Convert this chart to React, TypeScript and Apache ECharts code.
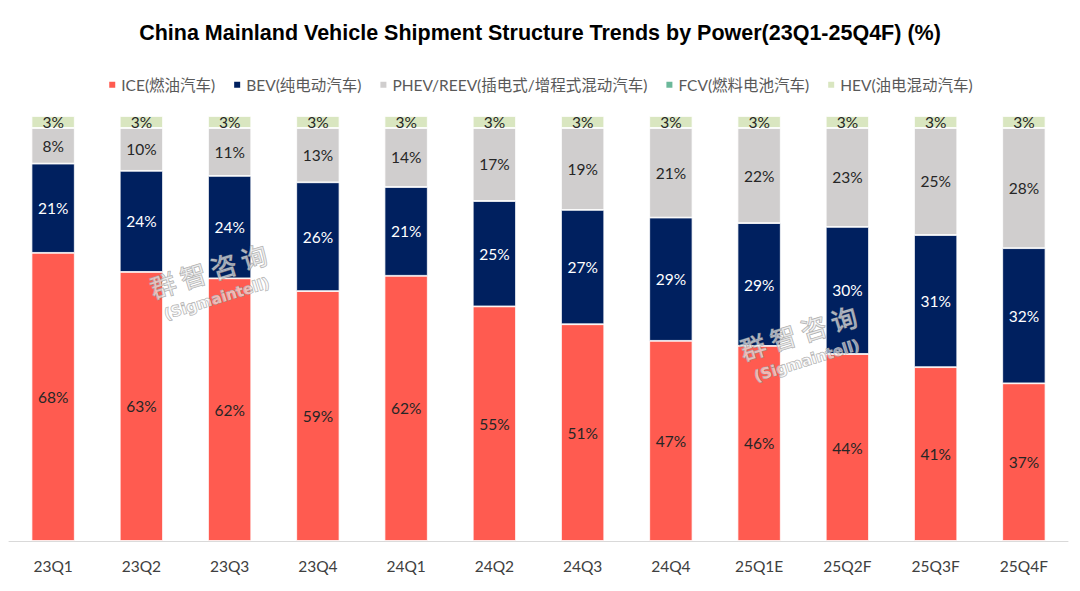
import React, { useEffect, useRef } from "react";
import * as echarts from "echarts";

const categories = ["23Q1", "23Q2", "23Q3", "23Q4", "24Q1", "24Q2", "24Q3", "24Q4", "25Q1E", "25Q2F", "25Q3F", "25Q4F"];
const iceValues = [67.8, 63.3, 61.8, 58.8, 62.4, 55.2, 51.0, 47.1, 45.9, 44.0, 40.9, 37.1];
const bevValues = [21.0, 23.8, 24.1, 25.6, 20.9, 24.8, 26.9, 29.0, 28.9, 29.9, 31.1, 31.8];
const phevValues = [8.4, 10.1, 11.3, 12.8, 13.9, 17.2, 19.3, 21.1, 22.4, 23.3, 25.2, 28.3];
const fcvValues = [0, 0, 0, 0, 0, 0, 0, 0, 0, 0, 0, 0];
const hevValues = [2.8, 2.8, 2.8, 2.8, 2.8, 2.8, 2.8, 2.8, 2.8, 2.8, 2.8, 2.8];

const seriesNames = ["ICE(燃油汽车)", "BEV(纯电动汽车)", "PHEV/REEV(插电式/增程式混动汽车)", "FCV(燃料电池汽车)", "HEV(油电混动汽车)"];
const seriesColors = ["#FF5B50", "#00205F", "#D0CECE", "#6BB89A", "#D9E6C0"];
const labelColors = ["#262626", "#FFFFFF", "#262626", "#262626", "#262626"];

const FONT = "Lato, 'Noto Sans CJK SC', sans-serif";

export default function App() {
  const ref = useRef<HTMLDivElement>(null);
  useEffect(() => {
    if (!ref.current) return;
    const chart = echarts.init(ref.current, undefined, { renderer: "svg" });
    const allData = [iceValues, bevValues, phevValues, fcvValues, hevValues];
    const wm = (x: number, y: number) => ({
      type: "group",
      x,
      y,
      rotation: 0.3,
      silent: true,
      z: 100,
      children: [
        {
          type: "text",
          x: 0,
          y: 0,
          z: 100,
          style: {
            text: "群 智 咨 询",
            font: "26px 'Noto Sans CJK SC'",
            fill: "rgba(255,255,255,0.55)",
            stroke: "rgba(150,150,150,0.8)",
            lineWidth: 1.2,
            textAlign: "center",
            textVerticalAlign: "middle",
          },
        },
        {
          type: "text",
          x: 0,
          y: 30,
          z: 100,
          style: {
            text: "(Sigmaintell)",
            font: "bold 15px 'DejaVu Sans'",
            fill: "rgba(255,255,255,0.55)",
            stroke: "rgba(150,150,150,0.8)",
            lineWidth: 1,
            textAlign: "center",
            textVerticalAlign: "middle",
          },
        },
      ],
    });
    chart.setOption({
      animation: false,
      backgroundColor: "#FFFFFF",
      title: {
        text: "China Mainland Vehicle Shipment Structure Trends by Power(23Q1-25Q4F) (%)",
        left: "center",
        top: 17,
        textStyle: {
          fontFamily: "'Liberation Sans', Arial, sans-serif",
          fontWeight: "bold",
          fontSize: 21.5,
          color: "#000000",
        },
      },
      legend: {
        top: 72,
        left: "center",
        itemWidth: 8,
        itemHeight: 8,
        itemGap: 17,
        icon: "rect",
        textStyle: { fontFamily: FONT, fontSize: 15.5, color: "#595959" },
        data: seriesNames,
      },
      grid: { left: 9, right: 12, top: 116, bottom: 50, containLabel: false },
      xAxis: {
        type: "category",
        data: categories,
        axisLine: { lineStyle: { color: "#D9D9D9", width: 1 } },
        axisTick: { show: false },
        axisLabel: { color: "#404040", fontFamily: FONT, fontSize: 15.5, margin: 17 },
      },
      yAxis: { type: "value", min: 0, max: 100, show: false, splitLine: { show: false } },
      graphic: [wm(208, 270), wm(798, 332)],
      series: seriesNames.map((name, i) => ({
        name,
        type: "bar",
        stack: "total",
        barWidth: "49%",
        data: allData[i],
        itemStyle: { color: seriesColors[i], borderColor: "#FFFFFF", borderWidth: 0.8 },
        label: {
          show: i !== 3,
          position: "inside",
          color: labelColors[i],
          fontFamily: FONT,
          fontSize: 15.5,
          formatter: (p: any) => `${Math.round(p.value)}%`,
        },
      })),
    });
    return () => chart.dispose();
  }, []);
  return <div ref={ref} style={{ position: "absolute", left: 0, top: 0, width: 1080, height: 591 }} />;
}
